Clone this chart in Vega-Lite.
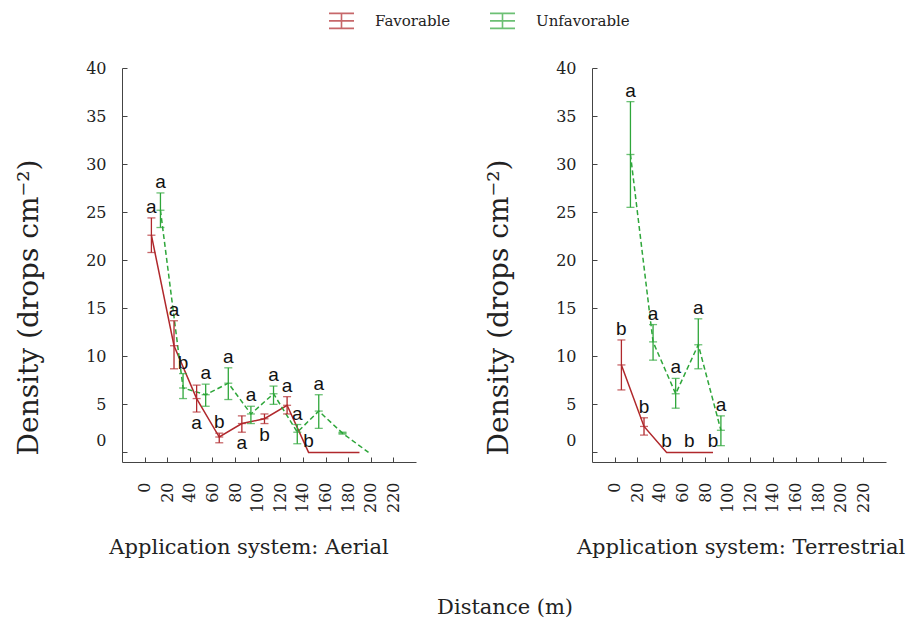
{
  "$schema": "https://vega.github.io/schema/vega-lite/v6.json",
  "padding": {"left": 15, "top": 7, "right": 5, "bottom": 5},
  "background": "white",
  "datasets": {
    "d": [
      {"panel": "Aerial", "group": "Favorable", "x": 6, "y": 22.6, "lo": 20.8, "hi": 24.4, "label": "a", "pos": "above"},
      {"panel": "Aerial", "group": "Favorable", "x": 26, "y": 11.1, "lo": 8.7, "hi": 13.7, "label": "a", "pos": "above"},
      {"panel": "Aerial", "group": "Favorable", "x": 46, "y": 5.6, "lo": 4.2, "hi": 7.0, "label": "a", "pos": "below"},
      {"panel": "Aerial", "group": "Favorable", "x": 66, "y": 1.6, "lo": 1.0, "hi": 2.0, "label": "b", "pos": "above"},
      {"panel": "Aerial", "group": "Favorable", "x": 86, "y": 3.0, "lo": 2.1, "hi": 3.8, "label": "a", "pos": "below"},
      {"panel": "Aerial", "group": "Favorable", "x": 106, "y": 3.5, "lo": 3.0, "hi": 4.0, "label": "b", "pos": "below"},
      {"panel": "Aerial", "group": "Favorable", "x": 126, "y": 4.9, "lo": 4.0, "hi": 5.8, "label": "a", "pos": "above"},
      {"panel": "Aerial", "group": "Favorable", "x": 145, "y": 0, "lo": null, "hi": null, "label": "b", "pos": "above"},
      {"panel": "Aerial", "group": "Favorable", "x": 190, "y": 0, "lo": null, "hi": null, "label": null, "pos": null},
      {"panel": "Aerial", "group": "Unfavorable", "x": 14, "y": 25.2, "lo": 23.4, "hi": 27.0, "label": "a", "pos": "above"},
      {"panel": "Aerial", "group": "Unfavorable", "x": 34, "y": 6.7, "lo": 5.6, "hi": 8.2, "label": "b", "pos": "above"},
      {"panel": "Aerial", "group": "Unfavorable", "x": 54, "y": 6.0, "lo": 4.8, "hi": 7.1, "label": "a", "pos": "above"},
      {"panel": "Aerial", "group": "Unfavorable", "x": 74, "y": 7.2, "lo": 5.5, "hi": 8.8, "label": "a", "pos": "above"},
      {"panel": "Aerial", "group": "Unfavorable", "x": 94, "y": 4.0, "lo": 3.0, "hi": 4.8, "label": "a", "pos": "above"},
      {"panel": "Aerial", "group": "Unfavorable", "x": 114, "y": 6.1, "lo": 5.0, "hi": 6.9, "label": "a", "pos": "above"},
      {"panel": "Aerial", "group": "Unfavorable", "x": 135, "y": 2.1, "lo": 0.9, "hi": 2.9, "label": "a", "pos": "above"},
      {"panel": "Aerial", "group": "Unfavorable", "x": 154, "y": 4.3, "lo": 2.5, "hi": 6.0, "label": "a", "pos": "above"},
      {"panel": "Aerial", "group": "Unfavorable", "x": 175, "y": 2.0, "lo": 1.9, "hi": 2.1, "label": null, "pos": null},
      {"panel": "Aerial", "group": "Unfavorable", "x": 198, "y": 0, "lo": null, "hi": null, "label": null, "pos": null},
      {"panel": "Terrestrial", "group": "Favorable", "x": 6, "y": 9.1, "lo": 6.5, "hi": 11.7, "label": "b", "pos": "above"},
      {"panel": "Terrestrial", "group": "Favorable", "x": 26, "y": 2.7, "lo": 1.8, "hi": 3.6, "label": "b", "pos": "above"},
      {"panel": "Terrestrial", "group": "Favorable", "x": 46, "y": 0, "lo": null, "hi": null, "label": "b", "pos": "above"},
      {"panel": "Terrestrial", "group": "Favorable", "x": 66, "y": 0, "lo": null, "hi": null, "label": "b", "pos": "above"},
      {"panel": "Terrestrial", "group": "Favorable", "x": 87, "y": 0, "lo": null, "hi": null, "label": "b", "pos": "above"},
      {"panel": "Terrestrial", "group": "Unfavorable", "x": 14, "y": 31.0, "lo": 25.5, "hi": 36.5, "label": "a", "pos": "above"},
      {"panel": "Terrestrial", "group": "Unfavorable", "x": 34, "y": 11.5, "lo": 9.6, "hi": 13.3, "label": "a", "pos": "above"},
      {"panel": "Terrestrial", "group": "Unfavorable", "x": 54, "y": 6.1, "lo": 4.6, "hi": 7.7, "label": "a", "pos": "above"},
      {"panel": "Terrestrial", "group": "Unfavorable", "x": 74, "y": 11.2, "lo": 8.7, "hi": 13.9, "label": "a", "pos": "above"},
      {"panel": "Terrestrial", "group": "Unfavorable", "x": 94, "y": 2.3, "lo": 0.7, "hi": 3.8, "label": "a", "pos": "above"}
    ]
  },
  "spacing": 69,
  "title": {"text": "Distance (m)", "orient": "bottom", "anchor": "middle", "font": "DejaVu Serif", "fontSize": 21, "fontWeight": "normal", "color": "#222", "offset": 39, "dx": 45},
  "hconcat": [
    {
      "width": 294, "height": 394,
      "data": {"name": "d"},
      "transform": [{"filter": "datum.panel === 'Aerial'"}],
      "title": {"text": "Application system: Aerial", "orient": "bottom", "anchor": "middle", "font": "DejaVu Serif", "fontSize": 21, "fontWeight": "normal", "color": "#222", "offset": 24, "dx": -20},
      "encoding": {
        "x": {"field": "x", "type": "quantitative", "scale": {"domain": [-20, 240], "nice": false, "zero": false},
              "axis": {"values": [0,20,40,60,80,100,120,140,160,180,200,220], "labelAngle": 270, "labelPadding": 25, "title": null}},
        "y": {"field": "y", "type": "quantitative", "scale": {"domain": [-1, 40], "nice": false, "zero": false},
              "axis": {"values": [0,5,10,15,20,25,30,35,40], "labelPadding": 21, "title": "Density (drops cm⁻²)",
                       "titleFontSize": 28, "titleAngle": 270, "titleX": -93, "titleY": 239, "titleAlign": "center", "titleBaseline": "middle",
                       "labelOffset": {"condition": {"test": "datum.value === 0", "value": -12}, "value": 0}}},
        "color": {"field": "group", "type": "nominal",
                  "scale": {"domain": ["Favorable", "Unfavorable"], "range": ["#B0282C", "#2EA63A"]},
                  "legend": {"orient": "none", "legendX": 206, "legendY": -61, "direction": "horizontal", "title": null,
                             "symbolType": "M-1,-0.6H1M-1,0H1M-1,0.6H1M0,-0.6V0.6", "symbolSize": 625, "symbolStrokeWidth": 1.6,
                             "symbolFillColor": "transparent", "labelFont": "DejaVu Serif", "labelFontSize": 15, "labelColor": "#222",
                             "labelOffset": 20, "columnPadding": 35}}
      },
      "layer": [
        {"transform": [{"filter": "datum.group === 'Favorable'"}],
         "mark": {"type": "line", "strokeWidth": 1.5},
         "encoding": {"order": {"field": "x"}}},
        {"transform": [{"filter": "datum.group === 'Unfavorable'"}],
         "mark": {"type": "line", "strokeWidth": 1.5, "strokeDash": [5, 3]},
         "encoding": {"order": {"field": "x"}}},
        {"mark": {"type": "rule", "strokeWidth": 1.3},
         "encoding": {"y": {"field": "lo", "type": "quantitative"}, "y2": {"field": "hi"}}},
        {"transform": [{"fold": ["lo", "hi", "y"], "as": ["k", "v"]}, {"filter": "isValid(datum.hi)"}],
         "mark": {"type": "tick", "orient": "horizontal", "size": 8, "thickness": 1.3},
         "encoding": {"y": {"field": "v", "type": "quantitative"}}},
        {"transform": [{"filter": "datum.pos === 'above' && isValid(datum.hi)"}],
         "mark": {"type": "text", "font": "Liberation Sans", "fontSize": 19, "baseline": "alphabetic", "dy": -5},
         "encoding": {"y": {"field": "hi", "type": "quantitative"}, "text": {"field": "label"}, "color": {"value": "#111"}}},
        {"transform": [{"filter": "datum.pos === 'above' && !isValid(datum.hi)"}],
         "mark": {"type": "text", "font": "Liberation Sans", "fontSize": 19, "baseline": "alphabetic", "dy": -5},
         "encoding": {"text": {"field": "label"}, "color": {"value": "#111"}}},
        {"transform": [{"filter": "datum.pos === 'below'"}],
         "mark": {"type": "text", "font": "Liberation Sans", "fontSize": 19, "baseline": "alphabetic", "dy": 17},
         "encoding": {"y": {"field": "lo", "type": "quantitative"}, "text": {"field": "label"}, "color": {"value": "#111"}}}
      ]
    },
    {
      "width": 294, "height": 394,
      "data": {"name": "d"},
      "transform": [{"filter": "datum.panel === 'Terrestrial'"}],
      "title": {"text": "Application system: Terrestrial", "orient": "bottom", "anchor": "middle", "font": "DejaVu Serif", "fontSize": 21, "fontWeight": "normal", "color": "#222", "offset": 24, "dx": 2},
      "encoding": {
        "x": {"field": "x", "type": "quantitative", "scale": {"domain": [-20, 240], "nice": false, "zero": false},
              "axis": {"values": [0,20,40,60,80,100,120,140,160,180,200,220], "labelAngle": 270, "labelPadding": 25, "title": null}},
        "y": {"field": "y", "type": "quantitative", "scale": {"domain": [-1, 40], "nice": false, "zero": false},
              "axis": {"values": [0,5,10,15,20,25,30,35,40], "labelPadding": 21, "title": "Density (drops cm⁻²)",
                       "titleFontSize": 28, "titleAngle": 270, "titleX": -93, "titleY": 239, "titleAlign": "center", "titleBaseline": "middle",
                       "labelOffset": {"condition": {"test": "datum.value === 0", "value": -12}, "value": 0}}},
        "color": {"field": "group", "type": "nominal",
                  "scale": {"domain": ["Favorable", "Unfavorable"], "range": ["#B0282C", "#2EA63A"]},
                  "legend": {"orient": "none", "legendX": 206, "legendY": -61, "direction": "horizontal", "title": null,
                             "symbolType": "M-1,-0.6H1M-1,0H1M-1,0.6H1M0,-0.6V0.6", "symbolSize": 625, "symbolStrokeWidth": 1.6,
                             "symbolFillColor": "transparent", "labelFont": "DejaVu Serif", "labelFontSize": 15, "labelColor": "#222",
                             "labelOffset": 20, "columnPadding": 35}}
      },
      "layer": [
        {"transform": [{"filter": "datum.group === 'Favorable'"}],
         "mark": {"type": "line", "strokeWidth": 1.5},
         "encoding": {"order": {"field": "x"}}},
        {"transform": [{"filter": "datum.group === 'Unfavorable'"}],
         "mark": {"type": "line", "strokeWidth": 1.5, "strokeDash": [5, 3]},
         "encoding": {"order": {"field": "x"}}},
        {"mark": {"type": "rule", "strokeWidth": 1.3},
         "encoding": {"y": {"field": "lo", "type": "quantitative"}, "y2": {"field": "hi"}}},
        {"transform": [{"fold": ["lo", "hi", "y"], "as": ["k", "v"]}, {"filter": "isValid(datum.hi)"}],
         "mark": {"type": "tick", "orient": "horizontal", "size": 8, "thickness": 1.3},
         "encoding": {"y": {"field": "v", "type": "quantitative"}}},
        {"transform": [{"filter": "datum.pos === 'above' && isValid(datum.hi)"}],
         "mark": {"type": "text", "font": "Liberation Sans", "fontSize": 19, "baseline": "alphabetic", "dy": -5},
         "encoding": {"y": {"field": "hi", "type": "quantitative"}, "text": {"field": "label"}, "color": {"value": "#111"}}},
        {"transform": [{"filter": "datum.pos === 'above' && !isValid(datum.hi)"}],
         "mark": {"type": "text", "font": "Liberation Sans", "fontSize": 19, "baseline": "alphabetic", "dy": -5},
         "encoding": {"text": {"field": "label"}, "color": {"value": "#111"}}},
        {"transform": [{"filter": "datum.pos === 'below'"}],
         "mark": {"type": "text", "font": "Liberation Sans", "fontSize": 19, "baseline": "alphabetic", "dy": 17},
         "encoding": {"y": {"field": "lo", "type": "quantitative"}, "text": {"field": "label"}, "color": {"value": "#111"}}}
      ]
    }
  ],
  "config": {
    "view": {"stroke": null},
    "axis": {"grid": false, "domainColor": "#444", "tickColor": "#444", "tickSize": -5, "domainWidth": 1, "tickWidth": 1,
             "labelFont": "DejaVu Serif", "labelFontSize": 16, "labelColor": "#222",
             "titleFont": "DejaVu Serif", "titleFontWeight": "normal", "titleColor": "#222"}
  }
}
